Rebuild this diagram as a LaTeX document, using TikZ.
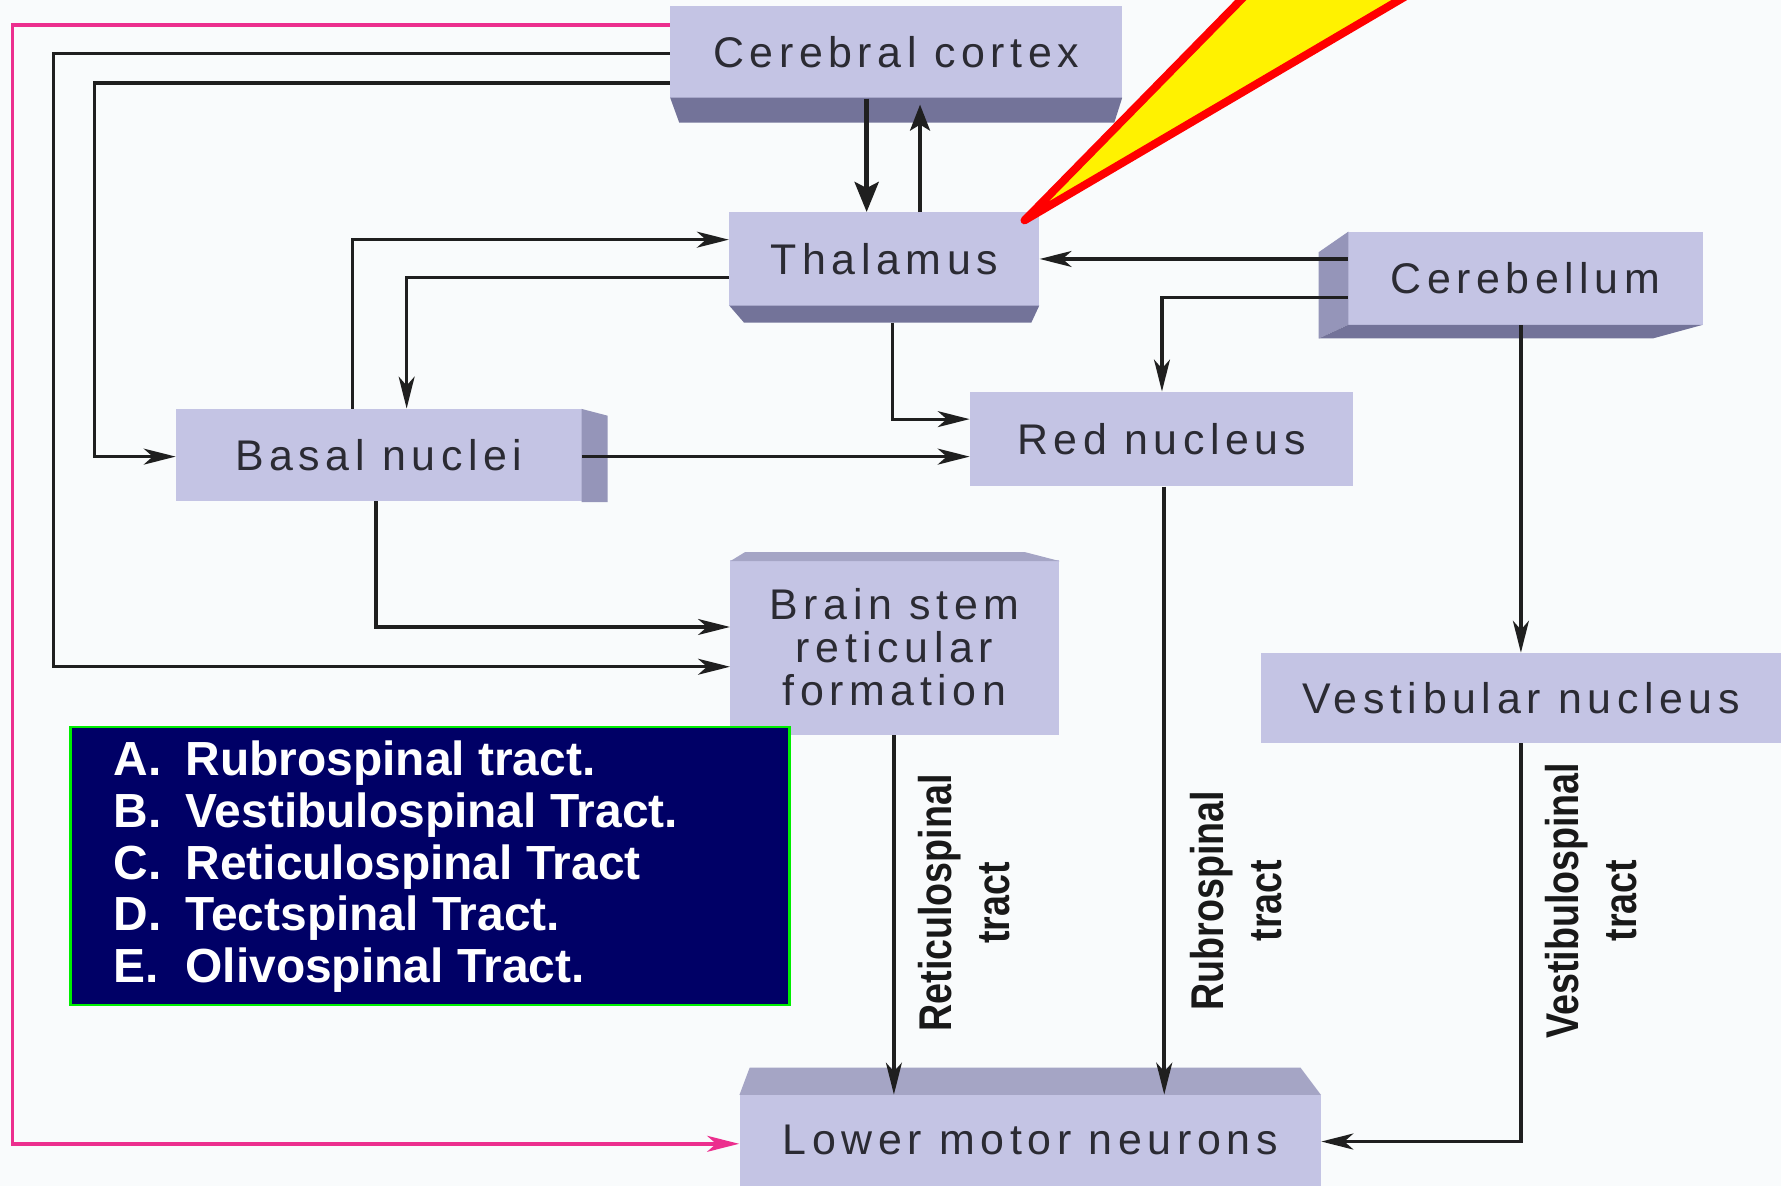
\documentclass[tikz,border=0pt]{standalone}
\usepackage{fontspec}
\setmainfont{Liberation Sans}
\newfontfamily\boxfont[LetterSpace=13]{Liberation Sans}
\newfontfamily\condfont[FakeStretch=0.82]{Liberation Sans}
\usetikzlibrary{arrows.meta}
\definecolor{bg}{HTML}{F9FBFC}
\definecolor{face}{HTML}{C4C4E4}
\definecolor{slabdark}{HTML}{737399}
\definecolor{slabside}{HTML}{9595B9}
\definecolor{slabtop}{HTML}{A5A5C5}
\definecolor{txt}{HTML}{2B2B33}
\definecolor{navy}{HTML}{000066}
\definecolor{qgreen}{HTML}{00EE00}
\definecolor{pinkl}{HTML}{EC2F8E}
\begin{document}
\begin{tikzpicture}[x=0.02cm,y=-0.02cm,
  box/.style={fill=face, draw=none, inner sep=0pt, text=txt, font=\boxfont\fontsize{21.5}{23}\selectfont},
  conn/.style={line width=1.6pt, draw=black!88},
  arr/.style={conn, -{Stealth[length=16pt,width=8pt,inset=4.5pt]}},
  tract/.style={rotate=90, align=center, text=black!90, font=\condfont\bfseries\fontsize{23}{29}\selectfont},
  qtext/.style={anchor=base west, text=white, inner sep=0pt, font=\bfseries\fontsize{24}{26}\selectfont}]

\fill[bg] (0,0) rectangle (1568,1044);
\useasboundingbox (0,0) rectangle (1568,1044);

% boxes (front faces)
\node[box, minimum width=7.96cm, minimum height=1.62cm] (cortex) at (789,46) {Cerebral cortex};
\node[box, minimum width=5.46cm, minimum height=1.64cm] (thal) at (778.5,228) {Thalamus};
\node[box, minimum width=6.24cm, minimum height=1.64cm] (cereb) at (1343,245) {Cerebellum};
\node[box, minimum width=6.74cm, minimum height=1.66cm] (red) at (1022.5,386.5) {Red nucleus};
\node[box, minimum width=7.14cm, minimum height=1.62cm] (basal) at (333.5,400.5) {Basal nuclei};
\node[box, minimum width=5.78cm, minimum height=3.08cm, align=center, font=\boxfont\fontsize{21.5}{21.6}\selectfont] (bstem) at (787.5,570) {Brain stem\\reticular\\formation};
\node[box, minimum width=9.16cm, minimum height=1.58cm] (vest) at (1339,614.5) {Vestibular nucleus};
\node[box, minimum width=10.24cm, minimum height=1.6cm] (lmn) at (907,1004) {Lower motor neurons};

% 3D slabs
\fill[slabdark] (590,86) -- (988,86) -- (981,108) -- (598,108) -- cycle;
\fill[slabdark] (642,269) -- (915,269) -- (908,284) -- (655,284) -- cycle;
\fill[slabside] (1161,222) -- (1187,204) -- (1187,286) -- (1161,298) -- cycle;
\fill[slabdark] (1161,298) -- (1187,286) -- (1499,286) -- (1455,298) -- cycle;
\fill[slabside] (512,360) -- (535,366) -- (535,442) -- (512,442) -- cycle;
\fill[slabtop] (643,494) -- (656,486) -- (902,486) -- (933,494) -- cycle;
\fill[slabtop] (651,964) -- (660,940) -- (1145,940) -- (1163,964) -- cycle;

\coordinate (thalbot) at (786,284);

% connectors
\draw[pinkl, line width=1.7pt, -{Stealth[length=16pt,width=8pt,inset=4.5pt]}]
  (cortex.west |- 0,22) -| (11,1007) -- (lmn.west |- 0,1007);
\draw[conn, line width=2.5pt, -{Stealth[length=15pt,width=12pt,inset=3pt]}] (cortex.south -| 763,0) -- (thal.north -| 763,0);
\draw[conn, line width=1.9pt, shorten >=3pt, -{Stealth[length=13pt,width=10pt,inset=3pt]}] (thal.north -| 810,0) -- (cortex.south -| 810,0);
\draw[arr] (cortex.west |- 0,47) -| (47,587) -- (bstem.west |- 0,587);
\draw[arr] (cortex.west |- 0,73) -| (83,402) -- (basal.west |- 0,402);
\draw[arr] (basal.north -| 310,0) |- (thal.west |- 0,211);
\draw[arr] (thal.west |- 0,244) -| (basal.north -| 358,0);
\draw[arr] (thalbot) |- (red.west |- 0,369);
\draw[arr] (basal.east |- 0,402) -- (red.west |- 0,402);
\draw[arr] (basal.south -| 331,0) |- (bstem.west |- 0,552);
\draw[arr] (cereb.west |- 0,228) -- (thal.east |- 0,228);
\draw[arr] (cereb.west |- 0,262) -| (red.north -| 1023,0);
\draw[arr, line width=1.9pt] (cereb.south -| 1339,0) -- (vest.north -| 1339,0);
\draw[arr] (bstem.south -| 787,0) -- (lmn.north -| 787,0);
\draw[arr, line width=1.8pt] (red.south -| 1025,0) -- (lmn.north -| 1025,0);
\draw[arr, line width=1.9pt] (vest.south -| 1339,0) |- (lmn.east |- 0,1005);

% tract labels
\node[tract] (retl) at (849,795) {Reticulospinal\\tract};
\node[tract] (rubl) at (1088,793) {Rubrospinal\\tract};
\node[tract] (vesl) at (1401,793) {Vestibulospinal\\tract};

% question box
\node[fill=navy, draw=qgreen, line width=1.2pt, minimum width=12.66cm, minimum height=4.9cm, inner sep=0pt] (q) at (378.5,762.5) {};
\node[qtext] (qa) at (100,683) {A.};
\node[qtext] (qat) at (163,683) {Rubrospinal tract.};
\node[qtext] (qb) at (100,728.5) {B.};
\node[qtext] (qbt) at (163,728.5) {Vestibulospinal Tract.};
\node[qtext] (qc) at (100,774) {C.};
\node[qtext] (qct) at (163,774) {Reticulospinal Tract};
\node[qtext] (qd) at (100,819.5) {D.};
\node[qtext] (qdt) at (163,819.5) {Tectspinal Tract.};
\node[qtext] (qe) at (100,865) {E.};
\node[qtext] (qet) at (163,865) {Olivospinal Tract.};

% pointer bolt
\begin{scope}
\clip (0,0) rectangle (1568,1044);
\filldraw[fill=yellow, draw=red, line width=4pt, line join=round] (902,194) -- (1112,-20) -- (1266,-20) -- cycle;
\end{scope}
\end{tikzpicture}
\end{document}
